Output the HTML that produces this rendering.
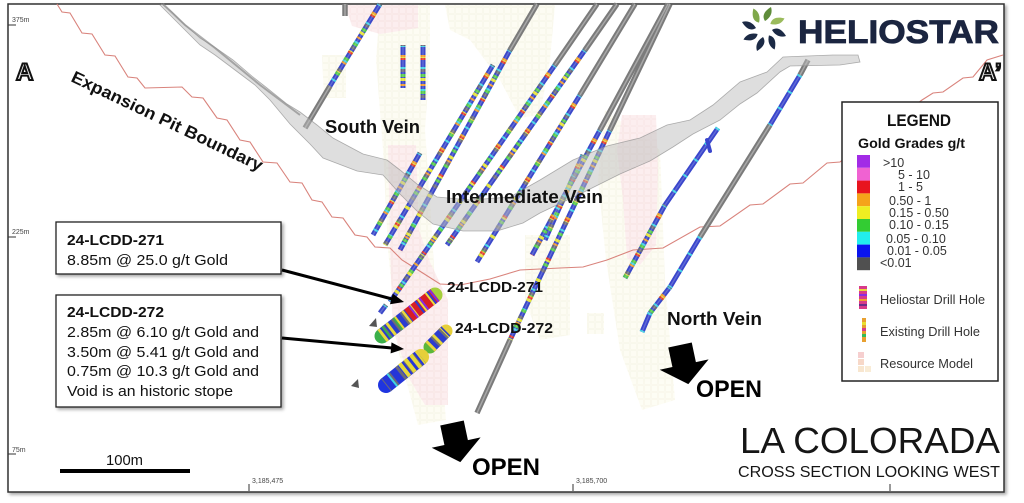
<!DOCTYPE html>
<html><head><meta charset="utf-8"><style>
html,body{margin:0;padding:0;background:#fff;width:1024px;height:503px;overflow:hidden}
svg{display:block}
text{font-family:"Liberation Sans",sans-serif}
</style></head><body>
<svg width="1024" height="503" viewBox="0 0 1024 503" xmlns="http://www.w3.org/2000/svg">
<defs>
<filter id="sh" x="-5%" y="-5%" width="115%" height="125%"><feDropShadow dx="2" dy="2" stdDeviation="1.5" flood-color="#000" flood-opacity="0.35"/></filter>
<pattern id="pk" width="7" height="7" patternUnits="userSpaceOnUse"><rect x="0.5" y="0.5" width="6" height="6" fill="#fbe4e6" stroke="#f3cdd0" stroke-width="0.6"/></pattern>
<pattern id="yl" width="7" height="7" patternUnits="userSpaceOnUse"><rect x="0.5" y="0.5" width="6" height="6" fill="#fcfbec" stroke="#f1eed3" stroke-width="0.6"/></pattern>
<path id="C" fill="none" d="M380,4 L330,86 M510,50 L400,250 M493,65 L385,245 M420,153 L373,235 M555,65 L390,302 M585,50 L447,245 M580,95 L477,262 M600,130 L532,255 M610,130 L510,340 M583,155 L545,240 M670,287 L650,313 M665,205 L625,278 M403,45 L403,88 M423,45 L423,100 M386,305 L380,313"/>
<path id="B" fill="none" d="M800,75 L770,125 M700,237 L670,287 M650,313 L642,332 M718,128 L665,205"/>
<path id="G" fill="none" d="M330,86 L305,128 M537,4 L510,50 M597,4 L555,65 M617,4 L585,50 M635,4 L580,95 M668,4 L600,130 M670,4 L610,130 M510,340 L477,413 M808,60 L800,75 M770,125 L700,237 M345,4 L345,16"/>
<path id="P" d="M1,-8 C6,-11 9,-16 7,-22 C2,-19 -3,-14 1,-8 Z"/>
</defs>

<!-- frame -->
<rect x="8" y="4" width="996" height="488" fill="#fff" stroke="#333" stroke-width="1.5" filter="url(#sh)"/>

<!-- resource model -->
<g opacity="0.6">
<polygon fill="url(#yl)" points="380,5 430,5 430,60 425,130 430,200 436,300 446,420 418,425 398,350 388,250 383,150 376,60"/>
<polygon fill="url(#yl)" points="445,5 555,5 550,60 540,115 520,118 500,80 470,40 450,30"/>
<polygon fill="url(#yl)" points="605,110 660,150 665,280 675,400 642,410 620,350 606,260 598,180"/>
<polygon fill="url(#yl)" points="525,235 570,235 570,335 540,340 525,300"/>
<polygon fill="url(#yl)" points="322,55 346,55 346,98 324,98"/>
<polygon fill="url(#yl)" points="587,313 604,313 604,334 587,334"/>
<polygon fill="url(#pk)" points="345,5 418,5 418,28 380,34 352,26"/>
<polygon fill="url(#pk)" points="388,145 416,145 419,230 430,262 448,300 448,405 425,405 410,380 393,330 390,250"/>
<polygon fill="url(#pk)" points="622,115 656,115 658,170 656,245 640,265 627,258 623,200 617,150"/>
</g>

<!-- pit boundary red line -->
<path fill="none" stroke="#d9837c" stroke-width="1.1" d="M57,4 L62,12 L70,13 L82,33 L92,34 L105,55 L115,56 L128,77 L137,78 L145,88 L182,87 L192,97 L203,98 L217,118 L227,120 L240,140 L250,142 L263,162 L277,163 L290,182 L302,183 L312,200 L322,202 L332,217 L343,218 L355,235 L367,237 L375,247 L390,248 L402,260 L418,270 L440,284 L460,285 L490,279 L520,270 L560,268 L583,267 L607,260 L633,250 L663,248 L700,227 L720,226 L750,205 L763,204 L790,184 L803,183 L827,163 L840,162 L922,100 L933,93 L943,92 L963,78 L973,77 L987,60 L1003,55"/>

<!-- drill holes -->
<use href="#G" stroke="#7b7b7b" stroke-width="5.5"/>
<use href="#G" stroke="#a8a8a8" stroke-width="1.5"/>
<use href="#C" stroke="#3b48c9" stroke-width="5"/>
<use href="#C" stroke="#3fd3e3" stroke-width="5" stroke-dasharray="2 9"/>
<use href="#C" stroke="#55c94a" stroke-width="5" stroke-dasharray="3 14" stroke-dashoffset="5"/>
<use href="#C" stroke="#e6e238" stroke-width="5" stroke-dasharray="3 19" stroke-dashoffset="11"/>
<use href="#C" stroke="#ef9a2c" stroke-width="5" stroke-dasharray="2 27" stroke-dashoffset="19"/>
<use href="#C" stroke="#e23a30" stroke-width="5" stroke-dasharray="2 41" stroke-dashoffset="30"/>
<use href="#C" stroke="#6a6a7a" stroke-width="5" stroke-dasharray="3 23" stroke-dashoffset="2"/>
<use href="#C" stroke="#fff" stroke-opacity="0.2" stroke-width="1.4"/>
<use href="#B" stroke="#3a46cc" stroke-width="5"/>
<use href="#B" stroke="#3fd3e3" stroke-width="5" stroke-dasharray="2 17"/>
<use href="#B" stroke="#fff" stroke-opacity="0.2" stroke-width="1.4"/>
<line x1="707" y1="140" x2="710" y2="151" stroke="#3a46cc" stroke-width="4" stroke-linecap="round"/>

<!-- vein ribbon -->
<polygon fill="#bdbdbd" fill-opacity="0.5" stroke="#8f8f8f" stroke-width="0.8" stroke-opacity="0.7" points="162,4 172,12 182,22 200,38 213,46 233,60 253,77 267,88 287,104 300,112 317,125 333,138 363,154 387,160 400,170 417,184 437,197 470,200 510,197 540,180 573,160 607,146 640,138 667,125 690,120 713,105 740,82 767,72 783,57 807,56 833,55 858,55 860,62 840,65 790,66 780,72 757,93 740,104 720,120 693,134 673,147 650,161 620,174 580,194 540,213 523,223 497,231 463,231 433,224 417,211 400,194 383,175 357,171 323,158 310,144 290,124 270,100 255,85 235,70 215,55 200,45 185,30 170,15 160,5"/>
<path fill="none" stroke="#8c8c8c" stroke-width="2" stroke-opacity="0.7" d="M163,4 L185,25 L215,48 L260,85 L300,115"/>

<!-- intercept capsules -->
<g stroke-linecap="butt">
<circle cx="382" cy="336" r="7.5" fill="#3bb04a"/>
<circle cx="435" cy="295" r="7.5" fill="#a5cf3c"/>
<line x1="382" y1="336" x2="408" y2="316" stroke="#2c3ccf" stroke-width="15"/>
<line x1="382" y1="336" x2="408" y2="316" stroke="#e8d83a" stroke-width="15" stroke-dasharray="3 7"/>
<line x1="382" y1="336" x2="408" y2="316" stroke="#707070" stroke-width="15" stroke-dasharray="2 9" stroke-dashoffset="5"/>
<line x1="382" y1="336" x2="408" y2="316" stroke="#3bb04a" stroke-width="15" stroke-dasharray="2 12" stroke-dashoffset="9"/>
<line x1="408" y1="316" x2="435" y2="295" stroke="#d81e26" stroke-width="15"/>
<line x1="408" y1="316" x2="435" y2="295" stroke="#eadf3a" stroke-width="15" stroke-dasharray="2 8" stroke-dashoffset="3"/>
<line x1="408" y1="316" x2="435" y2="295" stroke="#8a2be2" stroke-width="15" stroke-dasharray="2 11" stroke-dashoffset="7"/>
<line x1="408" y1="316" x2="435" y2="295" stroke="#2c3ccf" stroke-width="15" stroke-dasharray="2 13" stroke-dashoffset="1"/>
<circle cx="430" cy="347" r="6.5" fill="#5cb83a"/>
<circle cx="446" cy="331" r="6.5" fill="#e6cf3a"/>
<line x1="430" y1="347" x2="446" y2="331" stroke="#2c3ccf" stroke-width="13"/>
<line x1="430" y1="347" x2="446" y2="331" stroke="#e8d83a" stroke-width="13" stroke-dasharray="3 6"/>
<line x1="430" y1="347" x2="446" y2="331" stroke="#707070" stroke-width="13" stroke-dasharray="2 9" stroke-dashoffset="4"/>
<circle cx="386" cy="385" r="8" fill="#1f35e0"/>
<circle cx="421" cy="357" r="8" fill="#e6cf3a"/>
<line x1="386" y1="385" x2="421" y2="357" stroke="#2535d8" stroke-width="16"/>
<line x1="386" y1="385" x2="421" y2="357" stroke="#6a6a7a" stroke-width="16" stroke-dasharray="3 7" stroke-dashoffset="2"/>
<line x1="386" y1="385" x2="421" y2="357" stroke="#3fd3e3" stroke-width="16" stroke-dasharray="2 13" stroke-dashoffset="8"/>
<line x1="403" y1="371" x2="421" y2="357" stroke="#e6d83a" stroke-width="16" stroke-dasharray="4 3"/>
</g>
<polygon points="369,326 376,318 377,327" fill="#555"/>
<polygon points="351,386 358,379 359,388" fill="#555"/>

<!-- red pit line label -->
<text transform="translate(70,81) rotate(25.5)" font-size="17" font-weight="bold" fill="#111" textLength="210" lengthAdjust="spacingAndGlyphs">Expansion Pit Boundary</text>

<!-- A / A' -->
<text x="16" y="80" font-size="24" font-weight="bold" fill="#f2f2f2" stroke="#111" stroke-width="2">A</text>
<text x="979" y="80" font-size="24" font-weight="bold" fill="#f2f2f2" stroke="#111" stroke-width="2">A’</text>

<!-- axis -->
<g fill="#444" font-size="7">
<text x="12" y="22">375m</text>
<text x="12" y="234">225m</text>
<text x="12" y="452">75m</text>
<text x="252" y="483">3,185,475</text>
<text x="576" y="483">3,185,700</text>
</g>
<g stroke="#333" stroke-width="1">
<line x1="8" y1="25" x2="16" y2="25"/><line x1="8" y1="237" x2="16" y2="237"/><line x1="8" y1="454" x2="16" y2="454"/>
<line x1="249" y1="484" x2="249" y2="491"/><line x1="573" y1="484" x2="573" y2="491"/><line x1="890" y1="484" x2="890" y2="491"/>
</g>

<!-- vein labels -->
<g font-weight="bold" fill="#111">
<text x="325" y="133" font-size="18" textLength="95" lengthAdjust="spacingAndGlyphs">South Vein</text>
<text x="446" y="203" font-size="18" textLength="157" lengthAdjust="spacingAndGlyphs">Intermediate Vein</text>
<text x="667" y="325" font-size="18" textLength="95" lengthAdjust="spacingAndGlyphs">North Vein</text>
<text x="447" y="292" font-size="15" textLength="96" lengthAdjust="spacingAndGlyphs">24-LCDD-271</text>
<text x="455" y="333" font-size="15" textLength="98" lengthAdjust="spacingAndGlyphs">24-LCDD-272</text>
</g>

<!-- callout boxes -->
<rect x="56" y="222" width="225" height="52" fill="#fff" stroke="#222" stroke-width="1.3" filter="url(#sh)"/>
<rect x="56" y="295" width="225" height="112" fill="#fff" stroke="#222" stroke-width="1.3" filter="url(#sh)"/>
<g fill="#111" font-size="14.5">
<text x="67" y="245" font-weight="bold" textLength="97" lengthAdjust="spacingAndGlyphs">24-LCDD-271</text>
<text x="67" y="265" textLength="161" lengthAdjust="spacingAndGlyphs">8.85m @ 25.0 g/t Gold</text>
<text x="67" y="317" font-weight="bold" textLength="97" lengthAdjust="spacingAndGlyphs">24-LCDD-272</text>
<text x="67" y="337" textLength="192" lengthAdjust="spacingAndGlyphs">2.85m @ 6.10 g/t Gold and</text>
<text x="67" y="357" textLength="192" lengthAdjust="spacingAndGlyphs">3.50m @ 5.41 g/t Gold and</text>
<text x="67" y="376" textLength="192" lengthAdjust="spacingAndGlyphs">0.75m @ 10.3 g/t Gold and</text>
<text x="67" y="396" textLength="166" lengthAdjust="spacingAndGlyphs">Void is an historic stope</text>
</g>
<!-- arrows -->
<line x1="282" y1="270" x2="392" y2="299" stroke="#000" stroke-width="3"/>
<polygon points="404,302 392.7,293.6 390,304.2" fill="#000"/>
<line x1="282" y1="338" x2="392" y2="348" stroke="#000" stroke-width="3"/>
<polygon points="404,349 391.5,342.4 390.6,353.4" fill="#000"/>

<!-- OPEN arrows -->
<polygon transform="translate(452,423) rotate(-12)" points="-12,0 12,0 12,20 25,20 0,40 -25,20 -12,20" fill="#000"/>
<polygon transform="translate(680,345) rotate(-12)" points="-12,0 12,0 12,20 25,20 0,40 -25,20 -12,20" fill="#000"/>
<text x="472" y="475" font-size="24" font-weight="bold" fill="#000" textLength="68" lengthAdjust="spacingAndGlyphs">OPEN</text>
<text x="696" y="397" font-size="24" font-weight="bold" fill="#000" textLength="66" lengthAdjust="spacingAndGlyphs">OPEN</text>

<!-- scale bar -->
<text x="106" y="465" font-size="15" fill="#111" textLength="37" lengthAdjust="spacingAndGlyphs">100m</text>
<rect x="60" y="469" width="130" height="4" fill="#000"/>

<!-- title -->
<text x="740" y="453" font-size="36" fill="#151515" textLength="260" lengthAdjust="spacingAndGlyphs">LA COLORADA</text>
<text x="738" y="477" font-size="16" fill="#151515" textLength="262" lengthAdjust="spacingAndGlyphs">CROSS SECTION LOOKING WEST</text>

<!-- logo -->
<g transform="translate(764,29)">
<use href="#P" fill="#5e8c3a"/>
<use href="#P" transform="rotate(45)" fill="#9bbb5c"/>
<use href="#P" transform="rotate(90)" fill="#1c2a45"/>
<use href="#P" transform="rotate(135)" fill="#1c2a45"/>
<use href="#P" transform="rotate(180)" fill="#1c2a45"/>
<use href="#P" transform="rotate(225)" fill="#1c2a45"/>
<use href="#P" transform="rotate(270)" fill="#1c2a45"/>
<use href="#P" transform="rotate(315)" fill="#7fa84a"/>
</g>
<text x="798" y="43" font-size="32" font-weight="bold" fill="#1b2540" stroke="#1b2540" stroke-width="0.8" textLength="201" lengthAdjust="spacingAndGlyphs">HELIOSTAR</text>

<!-- legend -->
<rect x="842" y="102" width="156" height="279" fill="#fff" stroke="#222" stroke-width="1.5"/>
<text x="919" y="126" font-size="17" font-weight="bold" fill="#111" text-anchor="middle" textLength="64" lengthAdjust="spacingAndGlyphs">LEGEND</text>
<text x="858" y="148" font-size="14" font-weight="bold" fill="#111" textLength="107" lengthAdjust="spacingAndGlyphs">Gold Grades g/t</text>
<g>
<rect x="857" y="155" width="13" height="12.8" fill="#a22be6"/>
<rect x="857" y="167.8" width="13" height="12.8" fill="#f062d2"/>
<rect x="857" y="180.6" width="13" height="12.8" fill="#e8141e"/>
<rect x="857" y="193.4" width="13" height="12.8" fill="#f5a31a"/>
<rect x="857" y="206.2" width="13" height="12.8" fill="#eeee22"/>
<rect x="857" y="219" width="13" height="12.8" fill="#33cc33"/>
<rect x="857" y="231.8" width="13" height="12.8" fill="#22eeee"/>
<rect x="857" y="244.6" width="13" height="12.8" fill="#0a14ee"/>
<rect x="857" y="257.4" width="13" height="12.8" fill="#505050"/>
</g>
<g font-size="12.5" fill="#333">
<text x="883" y="167">&gt;10</text>
<text x="898" y="179">5  - 10</text>
<text x="898" y="191">1  - 5</text>
<text x="889" y="205">0.50 - 1</text>
<text x="889" y="217">0.15 - 0.50</text>
<text x="889" y="229">0.10 - 0.15</text>
<text x="886" y="243">0.05 - 0.10</text>
<text x="887" y="255">0.01 - 0.05</text>
<text x="880" y="267">&lt;0.01</text>
<text x="880" y="304" textLength="105" lengthAdjust="spacingAndGlyphs">Heliostar Drill Hole</text>
<text x="880" y="336" textLength="100" lengthAdjust="spacingAndGlyphs">Existing Drill Hole</text>
<text x="880" y="368" textLength="93" lengthAdjust="spacingAndGlyphs">Resource Model</text>
</g>
<g>
<rect x="859" y="286" width="8" height="23" fill="#d83a8a"/>
<rect x="859" y="289" width="8" height="2" fill="#e8d83a"/>
<rect x="859" y="294" width="8" height="2" fill="#8a2be2"/>
<rect x="859" y="299" width="8" height="2" fill="#f0a030"/>
<rect x="859" y="304" width="8" height="2" fill="#6a2a8a"/>
<rect x="862" y="318" width="4" height="24" fill="#e8a030"/>
<rect x="862" y="322" width="4" height="3" fill="#e8e030"/>
<rect x="862" y="328" width="4" height="3" fill="#d83a8a"/>
<rect x="862" y="334" width="4" height="3" fill="#33bb55"/>
<rect x="858" y="352" width="6" height="6" fill="#f6cfcf"/>
<rect x="858" y="359" width="6" height="6" fill="#f7d8c8"/>
<rect x="858" y="366" width="6" height="6" fill="#f8e6cf"/>
<rect x="865" y="366" width="6" height="6" fill="#f9ecd6"/>
</g>
</svg>
</body></html>
